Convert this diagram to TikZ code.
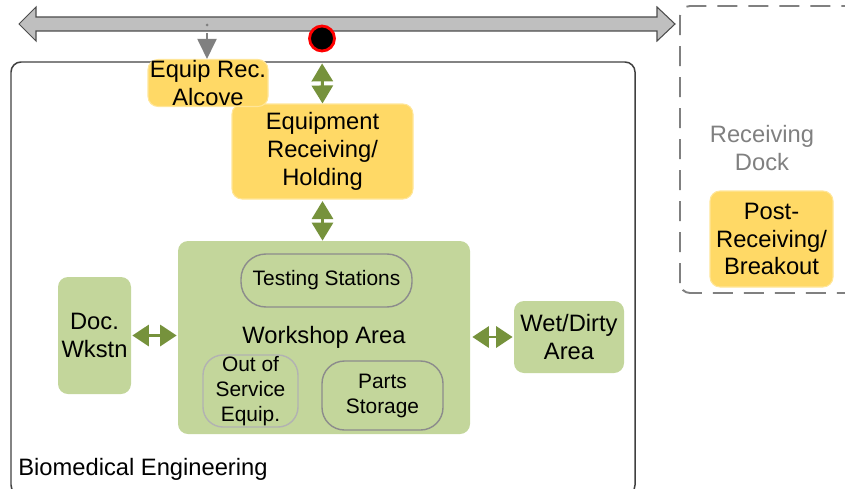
\documentclass[tikz,border=0pt]{standalone}
\usepackage{fontspec}
\setmainfont{Liberation Sans}
\usetikzlibrary{arrows.meta}
\definecolor{roomyellow}{HTML}{FFD966}
\definecolor{roomyellowline}{HTML}{FFE699}
\definecolor{roomgreen}{HTML}{C3D69B}
\definecolor{flowgreen}{HTML}{76923C}
\definecolor{corridorgray}{HTML}{BFBFBF}
\tikzset{
  bigtext/.style={font=\fontsize{13.5}{15.9}\selectfont},
  smalltext/.style={font=\fontsize{11.9}{14.2}\selectfont},
  room/.style={bigtext, align=center, inner sep=0pt, rounded corners=0.2cm},
  yellowroom/.style={room, fill=roomyellow, draw=roomyellowline, line width=0.6pt},
  greenroom/.style={room, fill=roomgreen},
  subarea/.style={smalltext, align=center, inner sep=0pt, fill=roomgreen, draw=black!45, line width=0.8pt},
  flow/.style={flowgreen, line width=1.7pt,
    {Triangle[width=0.42cm,length=0.36cm]}-{Triangle[width=0.42cm,length=0.36cm]}},
  sideflow/.style={flowgreen, line width=1.7pt,
    {Triangle[width=0.42cm,length=0.33cm]}-{Triangle[width=0.42cm,length=0.33cm]}},
}
\begin{document}
\begin{tikzpicture}
  \useasboundingbox (0,0) rectangle (16.9,-9.76);
  % corridor
  \draw[fill=corridorgray, draw=black!70, line width=0.6pt]
    (0.38,-0.48) -- (0.72,-0.14) -- (0.72,-0.34) -- (13.14,-0.34) -- (13.14,-0.14)
    -- (13.5,-0.48) -- (13.14,-0.82) -- (13.14,-0.62) -- (0.72,-0.62) -- (0.72,-0.82) -- cycle;
  % department outlines
  \draw[black!75, line width=0.85pt, rounded corners=0.2cm] (0.22,-9.9) rectangle (12.7,-1.24);
  \node[bigtext, anchor=west, inner sep=0pt] (bmelabel) at (0.36,-9.38) {Biomedical Engineering};
  \draw[black!50, line width=1.1pt, dash pattern=on 0.4cm off 0.22cm, rounded corners=0.2cm]
    (13.6,-5.86) rectangle (17.3,-0.12);
  \node[bigtext, align=center, text=black!50, inner sep=0pt] (docklabel) at (15.24,-2.96) {Receiving\\Dock};
  % rooms
  \node[yellowroom, minimum width=3.62cm, minimum height=1.9cm] (equip) at (6.45,-3.03) {Equipment\\Receiving/\\Holding};
  \node[yellowroom, minimum width=2.4cm, minimum height=0.94cm] (alcove) at (4.16,-1.66) {Equip Rec.\\Alcove};
  \node[yellowroom, minimum width=2.46cm, minimum height=1.92cm] (post) at (15.43,-4.78) {Post-\\Receiving/\\Breakout};
  \node[greenroom, minimum width=5.84cm, minimum height=3.86cm] (workshop) at (6.48,-6.75) {};
  \node[bigtext, inner sep=0pt] (worklabel) at (6.48,-6.74) {Workshop Area};
  \node[greenroom, minimum width=1.46cm, minimum height=2.34cm] (doc) at (1.89,-6.71) {Doc.\\Wkstn};
  \node[greenroom, minimum width=2.2cm, minimum height=1.44cm] (wet) at (11.38,-6.74) {Wet/Dirty\\Area};
  % workshop areas
  \node[subarea, rounded corners=0.5cm, minimum width=3.42cm, minimum height=1.06cm] (testing) at (6.53,-5.61) {Testing Stations};
  \node[subarea, draw=black!30, rounded corners=0.4cm, minimum width=1.9cm, minimum height=1.44cm] (oos) at (5.01,-7.82) {Out of\\Service\\Equip.};
  \node[subarea, rounded corners=0.45cm, minimum width=2.42cm, minimum height=1.38cm] (parts) at (7.65,-7.91) {Parts\\Storage};
  % door and flows
  \node[circle, fill=black, draw=red, line width=1.6pt, minimum size=0.5cm, inner sep=0pt] (door) at (6.44,-0.77) {};
  \fill[black!50] (4.14,-0.5) circle (0.03);
  \coordinate (alcovedrop) at (4.14,-0.66);
  \draw[black!50, line width=1.1pt, -{Triangle[width=0.38cm,length=0.4cm]}] (alcovedrop) -- (alcovedrop |- alcove.north);
  \draw[flow, shorten <=0.22cm] (door.south) -- (equip.north);
  \draw[flow, shorten <=0.03cm] (equip.south) -- (equip.south |- workshop.north);
  \draw[sideflow, shorten <=0.02cm, shorten >=0.02cm] (doc.east) -- (doc.east -| workshop.west);
  \draw[sideflow, shorten <=0.04cm, shorten >=0.02cm] (workshop.east |- wet.west) -- (wet.west);
\end{tikzpicture}
\end{document}
